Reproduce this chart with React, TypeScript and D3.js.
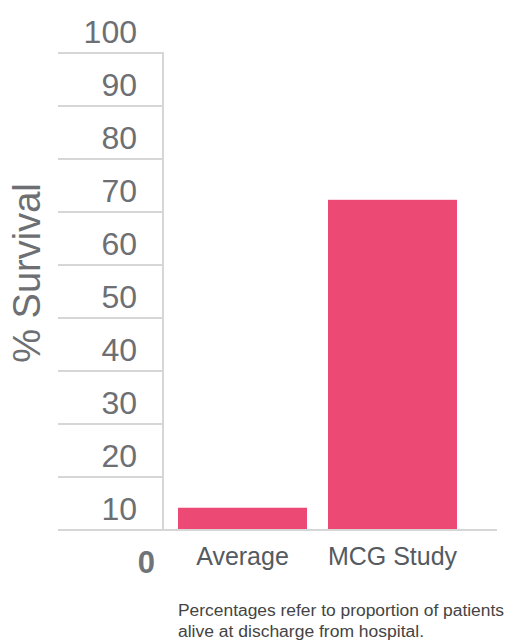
import React, { useRef, useEffect } from 'react';
import * as d3 from 'd3';

const categories = ['Average', 'MCG Study'];
const survival = [4.2, 62.3];
const gridValues = [0, 10, 20, 30, 40, 50, 60, 70, 80, 90];
const tickLabels = [10, 20, 30, 40, 50, 60, 70, 80, 90, 100];
const footnote = [
  'Percentages refer to proportion of patients',
  'alive at discharge from hospital.',
];

const WIDTH = 511;
const HEIGHT = 644;
const FONT = '"Liberation Sans", Arial, Helvetica, sans-serif';

const App: React.FC = () => {
  const svgRef = useRef<SVGSVGElement | null>(null);

  useEffect(() => {
    if (!svgRef.current) return;
    const svg = d3.select(svgRef.current);
    svg.selectAll('*').remove();

    const axisX = 163;
    const gridLeft = 58;
    const baseRight = 497;

    const yScale = d3.scaleLinear().domain([0, 100]).range([530, 0]);
    const xScale = d3.scaleBand()
      .domain(categories)
      .range([178, 457])
      .paddingInner(0.14)
      .paddingOuter(0);

    const band = yScale(0) - yScale(10);
    const labelShift = band * 0.6;

    // horizontal gridlines (left of the axis only)
    svg.append('g')
      .selectAll('line')
      .data(gridValues.filter(v => v > 0))
      .enter()
      .append('line')
      .attr('x1', gridLeft)
      .attr('x2', axisX)
      .attr('y1', d => yScale(d))
      .attr('y2', d => yScale(d))
      .attr('stroke', '#d6d6d6')
      .attr('stroke-width', 2);

    // vertical axis
    svg.append('line')
      .attr('x1', axisX)
      .attr('x2', axisX)
      .attr('y1', yScale(90) - 1)
      .attr('y2', yScale(0))
      .attr('stroke', '#d6d6d6')
      .attr('stroke-width', 2);

    // bars
    svg.append('g')
      .selectAll('rect')
      .data(categories)
      .enter()
      .append('rect')
      .attr('x', d => xScale(d) || 0)
      .attr('y', (d, i) => yScale(survival[i]))
      .attr('width', xScale.bandwidth())
      .attr('height', (d, i) => yScale(0) - yScale(survival[i]))
      .attr('fill', '#ec4a74');

    // baseline
    svg.append('line')
      .attr('x1', gridLeft)
      .attr('x2', baseRight)
      .attr('y1', yScale(0))
      .attr('y2', yScale(0))
      .attr('stroke', '#d6d6d6')
      .attr('stroke-width', 2);

    // tick labels sit in the band below each value
    svg.append('g')
      .selectAll('text')
      .data(tickLabels)
      .enter()
      .append('text')
      .attr('x', 137)
      .attr('y', d => yScale(d) + labelShift)
      .attr('dy', '0.36em')
      .attr('text-anchor', 'end')
      .style('font-family', FONT)
      .style('font-size', '32px')
      .style('fill', '#6d6f73')
      .text(d => d);

    svg.append('text')
      .attr('x', 155)
      .attr('y', yScale(0) + labelShift)
      .attr('dy', '0.36em')
      .attr('text-anchor', 'end')
      .style('font-family', FONT)
      .style('font-size', '31px')
      .style('font-weight', 'bold')
      .style('fill', '#707378')
      .text('0');

    // category labels
    svg.append('g')
      .selectAll('text')
      .data(categories)
      .enter()
      .append('text')
      .attr('x', d => (xScale(d) || 0) + xScale.bandwidth() / 2)
      .attr('y', 565)
      .attr('text-anchor', 'middle')
      .style('font-family', FONT)
      .style('font-size', '25px')
      .style('fill', '#555a60')
      .text(d => d);

    // y axis title
    svg.append('text')
      .attr('transform', 'translate(40, 273) rotate(-90)')
      .attr('text-anchor', 'middle')
      .style('font-family', FONT)
      .style('font-size', '38px')
      .style('fill', '#6d6f73')
      .text('% Survival');

    // footnote
    const lengths = [326, 246];
    svg.append('g')
      .selectAll('text')
      .data(footnote)
      .enter()
      .append('text')
      .attr('x', 178)
      .attr('y', (d, i) => 616 + i * 21)
      .attr('textLength', (d, i) => lengths[i])
      .attr('lengthAdjust', 'spacingAndGlyphs')
      .style('font-family', FONT)
      .style('font-size', '16px')
      .style('fill', '#444')
      .text(d => d);
  }, []);

  return (
    <svg
      ref={svgRef}
      width={WIDTH}
      height={HEIGHT}
      style={{ position: 'absolute', left: 0, top: 0, background: '#fff' }}
    />
  );
};

export default App;
